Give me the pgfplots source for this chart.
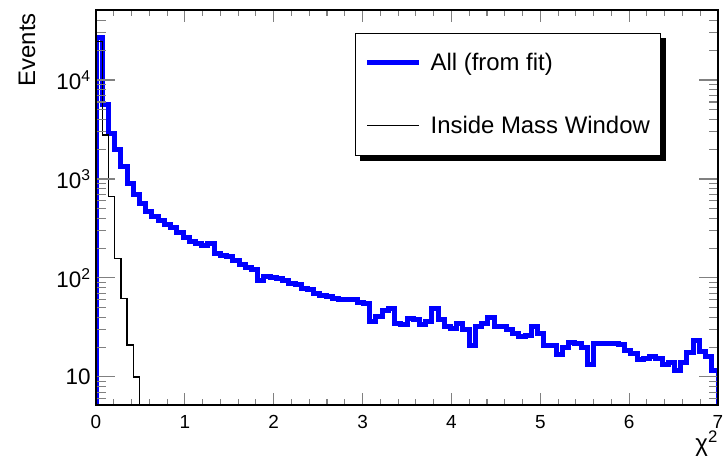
\documentclass[border=0pt]{standalone}
\usepackage{fontspec}
\setmainfont{Liberation Sans}
\usepackage{pgfplots}
\pgfplotsset{compat=1.18}
\usetikzlibrary{backgrounds}
\pgfplotstableread{
x y
0 1
0 27000
0.07 5600
0.14 2900
0.21 2000
0.28 1350
0.35 900
0.42 690
0.49 560
0.56 470
0.63 420
0.70 380
0.77 350
0.84 320
0.91 285
0.98 255
1.05 235
1.12 225
1.19 215
1.26 222
1.33 175
1.40 168
1.47 165
1.54 150
1.61 138
1.68 128
1.75 122
1.82 95
1.89 103
1.96 100
2.03 98
2.10 94
2.17 88
2.24 85
2.31 78
2.38 76
2.45 70
2.52 66
2.59 65
2.66 62
2.73 61
2.80 61
2.87 60
2.94 57
3.01 55
3.08 36
3.15 41
3.22 47
3.29 49
3.36 35
3.43 34
3.50 39
3.57 38
3.64 33.5
3.71 36
3.78 49
3.85 38
3.92 32
3.99 31
4.06 35
4.13 30
4.20 21
4.27 32
4.34 35
4.41 40
4.48 32
4.55 32
4.62 30
4.69 27.5
4.76 25.5
4.83 26
4.90 32
4.97 27.5
5.04 21
5.11 21
5.18 16.7
5.25 20
5.32 22.5
5.39 22
5.46 20
5.53 13.2
5.60 21.9
5.67 22
5.74 22
5.81 21.9
5.88 21.5
5.95 18.7
6.02 17.2
6.09 14.9
6.16 15.5
6.23 16.2
6.30 15.5
6.37 13.2
6.44 14.1
6.51 11.7
6.58 14.1
6.65 17.8
6.72 23.4
6.79 18
6.86 16
6.93 11.5
7 1
}\allfit
\pgfplotstableread{
x y
0 1
0 24400
0.07 2780
0.14 663
0.21 158
0.28 62
0.35 21
0.42 10
0.49 1
}\inside
\begin{document}
\begin{tikzpicture}
\begin{axis}[
  scale only axis, width=622bp, height=395bp,
  xmin=0, xmax=7, ymode=log, ymin=5.2, ymax=51000,
  axis on top,
  axis line style={line width=1.6bp},
  tick align=inside,
  xtick={0,1,...,7}, minor x tick num=4,
  ytick={10,100,1000,10000},
  yticklabels={10,10\textsuperscript{2},10\textsuperscript{3},10\textsuperscript{4}},
  minor ytick={6,7,8,9,20,30,40,50,60,70,80,90,200,300,400,500,600,700,800,900,2000,3000,4000,5000,6000,7000,8000,9000,20000,30000,40000,50000},
  xtick style={line width=1.1bp, /pgfplots/major tick length=12bp, /pgfplots/minor tick length=6bp},
  ytick style={line width=1.1bp, /pgfplots/major tick length=19bp, /pgfplots/minor tick length=9.5bp},
  /pgf/number format/assume math mode=true,
  xticklabel style={font=\fontsize{19}{19}\selectfont, inner sep=0pt, text depth=0pt, yshift=-10bp},
  yticklabel style={font=\fontsize{22.5}{22.5}\selectfont, xshift=-2bp},
  xlabel={χ\textsuperscript{2}},
  xlabel style={at={(rel axis cs:1.0,-0.066)}, anchor=north east, font=\fontsize{24}{24}\selectfont, inner sep=0pt},
  ylabel={Events},
  ylabel style={at={(rel axis cs:-0.098,0.992)}, anchor=base east, font=\fontsize{24}{24}\selectfont, inner sep=0pt},
  legend style={name=leg, at={(rel axis cs:0.4164,0.9418)}, anchor=north west, draw=black, line width=1.2bp, fill=white,
    font=\fontsize{24}{28}\selectfont, row sep=40bp, inner xsep=9bp, inner ysep=18bp,
    nodes={inner sep=2bp}, cells={anchor=west},
    /tikz/every odd column/.append style={column sep=7bp}},
  legend image code/.code={\draw[#1] (0bp,0bp) -- (52bp,0bp);},
]
\addplot[const plot mark left, blue, line width=5bp] table {\allfit};
\addlegendentry{All (from fit)}
\addplot[const plot mark left, black, line width=1.3bp] table {\inside};
\addlegendentry{Inside Mass Window}
\coordinate (bl) at (rel axis cs:0,0);
\coordinate (tr) at (rel axis cs:1,1);
\end{axis}
\begin{scope}[on background layer]
\fill[black] ([xshift=5bp,yshift=-5bp]leg.south west) rectangle ([xshift=5bp,yshift=-5bp]leg.north east);
\end{scope}
\path (bl) ++(-96bp,-58bp) coordinate (A);
\path (tr) ++(9bp,10bp) coordinate (B);
\pgfresetboundingbox
\path (A) rectangle (B);
\end{tikzpicture}
\end{document}
